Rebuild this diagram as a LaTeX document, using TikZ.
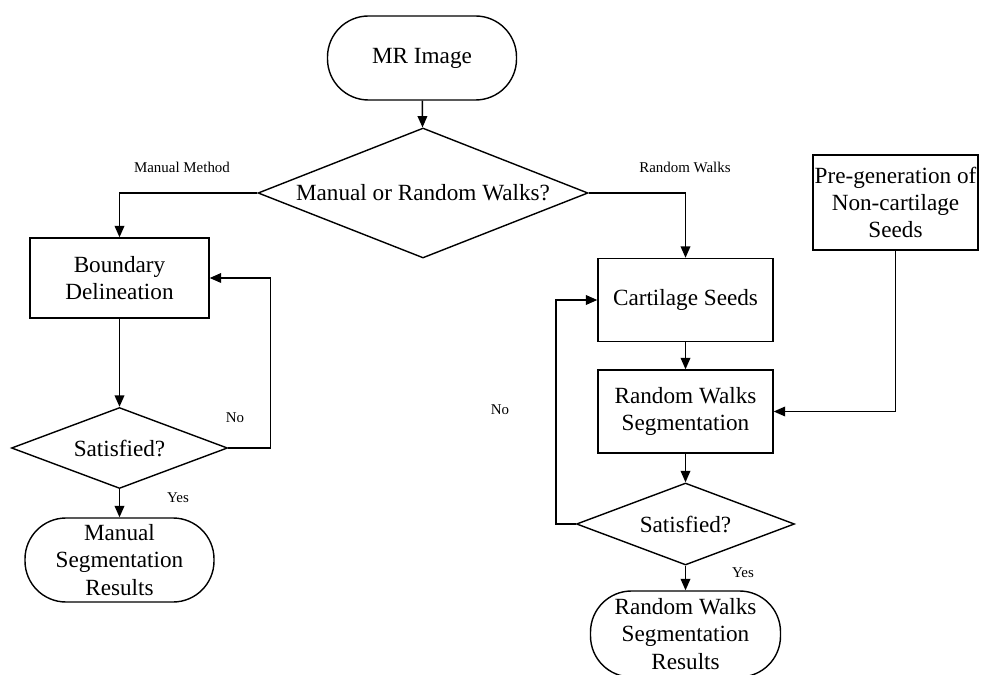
\documentclass[tikz,border=0pt]{standalone}
\usepackage{fontspec}
\setmainfont{Liberation Serif}
\usepackage{tikz}
\usetikzlibrary{
  arrows.meta,
  shapes.geometric,
}

\begin{document}
\begin{tikzpicture}[
    line width=0.8pt,
    >={Triangle[length=6.5pt, width=5.5pt]},
    txt/.style={font=\fontsize{13.2}{15.5}\selectfont, align=center},
    term/.style={txt, draw, rounded corners=0.82cm, minimum height=1.68cm, minimum width=3.78cm, inner sep=0pt},
    proc/.style={txt, draw, minimum width=3.5cm, minimum height=1.66cm, inner sep=0pt},
    ask/.style={txt, draw, diamond, aspect=2.6, inner sep=0pt},
    lbl/.style={font=\fontsize{8.5}{10}\selectfont},
  ]
  \useasboundingbox (0,0) rectangle (19.7,13.48);

  % Start and first decision
  \node[term] (img) at (8.44, 12.32) {MR Image};
  \node[ask, minimum width=6.6cm, minimum height=2.6cm] (choice) at (8.46, 9.62) {Manual or Random Walks?};

  % Manual branch
  \node[proc, minimum width=3.58cm, minimum height=1.6cm] (bd) at (2.39, 7.92) {Boundary\\Delineation};
  \node[ask, minimum width=4.32cm, minimum height=1.62cm] (sat1) at (2.39, 4.52) {Satisfied?};
  \node[term] (mres) at (2.39, 2.28) {Manual\\Segmentation\\Results};

  % Random walks branch
  \node[proc] (cs) at (13.71, 7.48) {Cartilage Seeds};
  \node[proc] (rws) at (13.71, 5.25) {Random Walks\\Segmentation};
  \node[proc, minimum width=3.3cm, minimum height=1.9cm] (pg) at (17.91, 9.43) {Pre-generation of\\Non-cartilage\\Seeds};
  \node[ask, minimum width=4.36cm, minimum height=1.64cm] (sat2) at (13.71, 3.00) {Satisfied?};
  \node[term, minimum width=3.8cm, minimum height=1.72cm] (rres) at (13.71, 0.80) {Random Walks\\Segmentation\\Results};

  % Connectors
  \draw[->] (img) -- (choice);
  \draw[->] (choice.west) -| (bd.north);
  \draw[->] (choice.east) -| (cs.north);
  \draw[->] (bd) -- (sat1);
  \draw[->] (sat1.east) -- ++(0.84,0) |- (bd.east);
  \draw[->] (sat1) -- (mres);
  \draw[->] (cs) -- (rws);
  \draw[->] (pg.south) |- (rws.east);
  \draw[->] (rws) -- (sat2);
  \draw[->] (sat2.west) -- ++(-0.4,0) |- (cs.west);
  \draw[->] (sat2) -- (rres);

  % Branch labels
  \node[lbl] (lman) at (3.64, 10.14) {Manual Method};
  \node[lbl] (lrw) at (13.70, 10.14) {Random Walks};
  \node[lbl] (no1) at (4.70, 5.12) {No};
  \node[lbl] (yes1) at (3.56, 3.52) {Yes};
  \node[lbl] (no2) at (10.00, 5.28) {No};
  \node[lbl] (yes2) at (14.86, 2.02) {Yes};
\end{tikzpicture}
\end{document}
